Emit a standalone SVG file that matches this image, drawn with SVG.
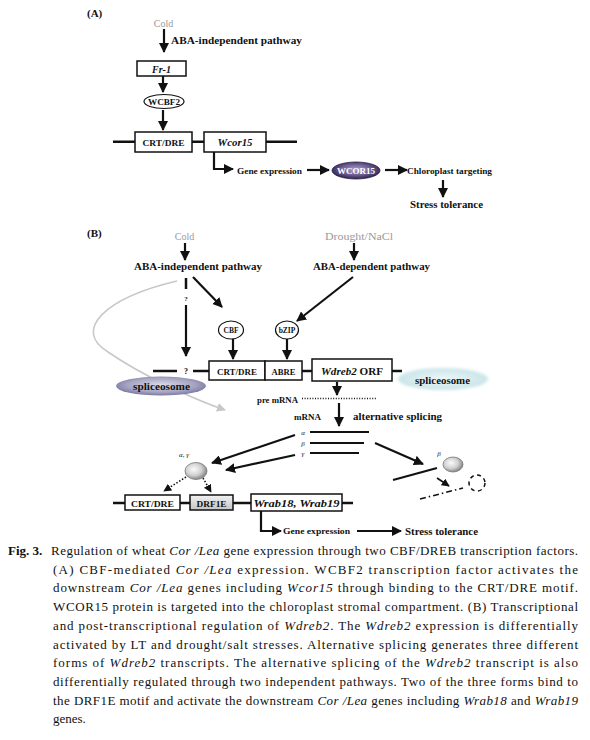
<svg xmlns="http://www.w3.org/2000/svg" width="590" height="740" viewBox="0 0 590 740">
<style>
text{font-family:"Liberation Serif","Times New Roman",serif;fill:#111}
.b{font-weight:bold}
.i{font-style:italic}
.gray{fill:#9a9a9a}
.box{fill:#fff;stroke:#111;stroke-width:1.5}
.ln{stroke:#111;stroke-width:2.5;fill:none}
.ar{stroke:#111;stroke-width:2.2;fill:none;marker-end:url(#ah)}
.ars{stroke:#111;stroke-width:1.6;fill:none;marker-end:url(#ahs)}
.dot{stroke:#111;stroke-width:1.6;fill:none;stroke-dasharray:1.5 1.8;marker-end:url(#ahs)}
.cap{font-size:13px}
.lbl{font-size:10px;font-weight:bold}
</style>
<defs>
<marker id="ah" viewBox="0 0 10 10" refX="9" refY="5" markerWidth="10" markerHeight="10" markerUnits="userSpaceOnUse" orient="auto"><path d="M0,0 L10,5 L0,10 z" fill="#111"/></marker>
<marker id="ahs" viewBox="0 0 10 10" refX="9" refY="5" markerWidth="8" markerHeight="8" markerUnits="userSpaceOnUse" orient="auto"><path d="M0,0 L10,5 L0,10 z" fill="#111"/></marker>
<marker id="ahg" viewBox="0 0 10 10" refX="9" refY="5" markerWidth="9" markerHeight="9" markerUnits="userSpaceOnUse" orient="auto"><path d="M0,0 L10,5 L0,10 z" fill="#c8c8c8"/></marker>
<radialGradient id="wcor" cx="50%" cy="45%" r="55%"><stop offset="0" stop-color="#b0a2cc"/><stop offset="0.6" stop-color="#6a5a90"/><stop offset="1" stop-color="#2e2250"/></radialGradient>
<radialGradient id="splL" cx="50%" cy="45%" r="55%"><stop offset="0" stop-color="#dcdce8"/><stop offset="0.7" stop-color="#a4a2c0"/><stop offset="1" stop-color="#7a78a0"/></radialGradient>
<radialGradient id="splR" cx="50%" cy="50%" r="55%"><stop offset="0" stop-color="#eef8fa"/><stop offset="1" stop-color="#c6e2e6"/></radialGradient>
<radialGradient id="ball" cx="40%" cy="40%" r="60%"><stop offset="0" stop-color="#fbfbfb"/><stop offset="0.6" stop-color="#d0d0d0"/><stop offset="1" stop-color="#8a8a8a"/></radialGradient>
<linearGradient id="drf" x1="0" y1="0" x2="0" y2="1"><stop offset="0" stop-color="#f2f2f2"/><stop offset="1" stop-color="#c4c4c4"/></linearGradient>
<filter id="blur" x="-20%" y="-40%" width="140%" height="180%"><feGaussianBlur stdDeviation="1.8"/></filter>
</defs>
<rect width="590" height="740" fill="#fff"/>

<!-- ============ PANEL A ============ -->
<g id="A-title"><text x="87" y="17" class="b" font-size="11">(A)</text></g>
<g id="A-cold"><text x="163.5" y="27" class="gray" font-size="10" text-anchor="middle">Cold</text></g>
<g id="A-pathway"><text x="171" y="44" class="b" font-size="11" textLength="131" lengthAdjust="spacingAndGlyphs">ABA-independent pathway</text></g>
<g id="A-fr1"><rect x="137" y="61" width="49" height="15" class="box"/><text x="161.5" y="72.5" class="b i" font-size="10" text-anchor="middle">Fr-1</text></g>
<g id="A-wcbf2"><ellipse cx="164" cy="101.5" rx="20" ry="7" fill="#fff" stroke="#111" stroke-width="1.2"/><text x="164" y="104.5" class="b" font-size="8" text-anchor="middle" textLength="32" lengthAdjust="spacingAndGlyphs">WCBF2</text></g>
<g id="A-gene">
<line x1="113" y1="141.7" x2="297" y2="141.7" class="ln"/>
<rect x="135" y="132" width="57" height="20" class="box"/>
<text x="163.5" y="145.5" class="b" font-size="9" text-anchor="middle" textLength="42" lengthAdjust="spacingAndGlyphs">CRT/DRE</text>
<rect x="204" y="132" width="62" height="20" class="box"/>
<text x="235" y="145.5" class="b i" font-size="10" text-anchor="middle" textLength="35" lengthAdjust="spacingAndGlyphs">Wcor15</text>
</g>
<g id="A-geneexp"><text x="237" y="173.5" class="b" font-size="8.5" textLength="65" lengthAdjust="spacingAndGlyphs">Gene expression</text></g>
<g id="A-wcor15"><ellipse cx="356" cy="170.5" rx="24" ry="8.5" fill="url(#wcor)" stroke="#2a1f45" stroke-width="0.8"/><text x="356" y="174" class="b" font-size="9" text-anchor="middle" fill="#fff" style="fill:#fff" textLength="38" lengthAdjust="spacingAndGlyphs">WCOR15</text></g>
<g id="A-chloro"><text x="407" y="173.5" class="b" font-size="8.5" textLength="85" lengthAdjust="spacingAndGlyphs">Chloroplast targeting</text></g>
<g id="A-stress"><text x="410" y="208" class="b" font-size="10" textLength="73" lengthAdjust="spacingAndGlyphs">Stress tolerance</text></g>

<g id="A-connectors">
<line x1="164" y1="29" x2="164" y2="52" class="ar"/>
<line x1="163" y1="76" x2="163" y2="92" class="ar"/>
<line x1="163" y1="110" x2="163" y2="130" class="ar"/>
<path d="M214 152 V169 H233" class="ar"/>
<line x1="307" y1="170" x2="329" y2="170" class="ar"/>
<line x1="385" y1="170" x2="407" y2="170" class="ar"/>
<line x1="443" y1="180" x2="443" y2="197" class="ar" stroke-width="3"/>
</g>

<!-- ============ PANEL B ============ -->
<g id="B-title"><text x="87" y="237" class="b" font-size="11">(B)</text></g>
<g id="B-cold"><text x="184.5" y="240" class="gray" font-size="10" text-anchor="middle">Cold</text></g>
<g id="B-drought"><text x="325" y="240" class="gray" font-size="10" textLength="68" lengthAdjust="spacingAndGlyphs">Drought/NaCl</text></g>
<g id="B-abaind"><text x="134" y="270" class="b" font-size="11" textLength="128" lengthAdjust="spacingAndGlyphs">ABA-independent pathway</text></g>
<g id="B-abadep"><text x="313" y="270" class="b" font-size="11" textLength="117" lengthAdjust="spacingAndGlyphs">ABA-dependent pathway</text></g>

<g id="B-splicing-curve">
<path d="M177 281 C105 298 72 330 108 352 C140 374 190 398 225 410" fill="none" stroke="#c8c8c8" stroke-width="1.6" marker-end="url(#ahg)"/>
</g>

<g id="B-cbf"><ellipse cx="231" cy="330" rx="12.5" ry="9" fill="#fff" stroke="#111" stroke-width="1.2"/><text x="231" y="333" class="b" font-size="7.5" text-anchor="middle">CBF</text></g>
<g id="B-bzip"><ellipse cx="287" cy="330" rx="11.5" ry="9" fill="#fff" stroke="#111" stroke-width="1.2"/><text x="287" y="333" class="b" font-size="7.5" text-anchor="middle">bZIP</text></g>

<g id="B-gene">
<line x1="153" y1="371" x2="177" y2="371" class="ln"/>
<text x="186" y="374" class="b" font-size="8" text-anchor="middle">?</text>
<line x1="193" y1="371" x2="209" y2="371" class="ln"/>
<rect x="209" y="361" width="56" height="19" class="box"/>
<text x="237" y="374.5" class="b" font-size="9" text-anchor="middle" textLength="40" lengthAdjust="spacingAndGlyphs">CRT/DRE</text>
<rect x="265" y="361" width="37" height="19" class="box"/>
<text x="283.5" y="374.5" class="b" font-size="9" text-anchor="middle" textLength="24" lengthAdjust="spacingAndGlyphs">ABRE</text>
<line x1="302" y1="371" x2="312" y2="371" class="ln"/>
<rect x="312" y="359" width="80" height="22" class="box"/>
<text x="352" y="374.5" font-size="10" text-anchor="middle" textLength="62" lengthAdjust="spacingAndGlyphs"><tspan class="b i">Wdreb2</tspan><tspan class="b"> ORF</tspan></text>
<line x1="392" y1="371" x2="402" y2="371" class="ln"/>
</g>

<g id="B-spliceosome-left"><ellipse cx="161" cy="386" rx="45" ry="9.5" fill="url(#splL)"/><text x="161.5" y="390" class="b" font-size="9.5" text-anchor="middle" textLength="57" lengthAdjust="spacingAndGlyphs">spliceosome</text></g>
<g id="B-spliceosome-right"><ellipse cx="443" cy="379" rx="45" ry="11" fill="url(#splR)" filter="url(#blur)"/><text x="442.5" y="384" class="b" font-size="9.5" text-anchor="middle" textLength="55" lengthAdjust="spacingAndGlyphs">spliceosome</text></g>

<g id="B-premrna"><text x="257" y="403" class="b" font-size="7.5" textLength="41" lengthAdjust="spacingAndGlyphs">pre mRNA</text>
<line x1="302" y1="398.5" x2="377" y2="398.5" stroke="#111" stroke-width="1.4" stroke-dasharray="1 1.6"/></g>
<g id="B-mrna"><text x="294" y="420" class="b" font-size="7.5" textLength="27" lengthAdjust="spacingAndGlyphs">mRNA</text></g>
<g id="B-altsplice"><text x="353" y="420" class="b" font-size="10" textLength="89" lengthAdjust="spacingAndGlyphs">alternative splicing</text></g>

<g id="B-transcripts">
<text x="303" y="434.5" class="i" font-size="7" text-anchor="middle">α</text>
<line x1="310" y1="432" x2="369" y2="432" stroke="#111" stroke-width="2"/>
<text x="303" y="445.5" class="i" font-size="7" text-anchor="middle">β</text>
<line x1="310" y1="443" x2="364" y2="443" stroke="#111" stroke-width="2"/>
<text x="303" y="456" class="i" font-size="7" text-anchor="middle">γ</text>
<line x1="310" y1="453" x2="359" y2="453" stroke="#111" stroke-width="2"/>
</g>

<g id="B-ag-protein"><text x="184" y="457" class="i" font-size="7" text-anchor="middle">α, γ</text><ellipse cx="196" cy="471" rx="11" ry="8.5" fill="url(#ball)" stroke="#777" stroke-width="0.8"/></g>
<g id="B-b-protein"><text x="439" y="456" class="i" font-size="7" text-anchor="middle">β</text><ellipse cx="453" cy="464.5" rx="10" ry="7.5" fill="url(#ball)" stroke="#777" stroke-width="0.8"/></g>

<g id="B-target">
<line x1="113" y1="503" x2="353" y2="503" class="ln"/>
<rect x="125" y="495" width="55" height="15" class="box"/>
<text x="152.5" y="506.5" class="b" font-size="9" text-anchor="middle" textLength="43" lengthAdjust="spacingAndGlyphs">CRT/DRE</text>
<rect x="190" y="495" width="43" height="15" fill="url(#drf)" stroke="#111" stroke-width="1.5"/>
<text x="211.5" y="506.5" class="b" font-size="9" text-anchor="middle" textLength="30" lengthAdjust="spacingAndGlyphs">DRF1E</text>
<rect x="251" y="494" width="91" height="17" class="box"/>
<text x="296.5" y="506.5" class="b i" font-size="9.5" text-anchor="middle" textLength="86" lengthAdjust="spacingAndGlyphs">Wrab18, Wrab19</text>
</g>
<g id="B-geneexp"><text x="283" y="534" class="b" font-size="8.5" textLength="67" lengthAdjust="spacingAndGlyphs">Gene expression</text></g>
<g id="B-stress"><text x="405" y="534.5" class="b" font-size="10" textLength="73" lengthAdjust="spacingAndGlyphs">Stress tolerance</text></g>
<g id="B-unbound"><circle cx="477" cy="483" r="8" fill="none" stroke="#111" stroke-width="1.5" stroke-dasharray="4 3.5"/></g>

<g id="B-connectors">
<line x1="185" y1="243" x2="185" y2="260" class="ar"/>
<line x1="354" y1="243" x2="354" y2="260" class="ar"/>
<line x1="186" y1="278" x2="186" y2="289" class="ln" stroke-width="2.2"/>
<text x="186" y="301" class="b" font-size="7" text-anchor="middle">?</text>
<line x1="186" y1="305" x2="186" y2="356" class="ar"/>
<line x1="193" y1="277" x2="222" y2="307" class="ar"/>
<line x1="353" y1="277" x2="297" y2="321" class="ar"/>
<line x1="233" y1="339" x2="233" y2="359" class="ar"/>
<line x1="287" y1="339" x2="287" y2="359" class="ar"/>
<line x1="337" y1="382" x2="337" y2="395" class="ar"/>
<line x1="339" y1="403" x2="339" y2="426" class="ar"/>
<line x1="295" y1="435" x2="212" y2="463" class="ar" stroke-width="2"/>
<line x1="295" y1="455" x2="226" y2="470" class="ar" stroke-width="2"/>
<line x1="375" y1="443" x2="423" y2="464" class="ar" stroke-width="2"/>
<line x1="186" y1="477" x2="164" y2="491" class="dot"/>
<line x1="203" y1="478" x2="211" y2="492" class="dot"/>
<line x1="393" y1="480" x2="437" y2="468" stroke="#111" stroke-width="2"/>
<line x1="437" y1="478" x2="449" y2="486" class="ars"/>
<line x1="420" y1="499" x2="463" y2="488" stroke="#111" stroke-width="1.6" stroke-dasharray="6 3 1.5 3"/>
<path d="M261 511 V531 H281" class="ar"/>
<line x1="357" y1="531" x2="401" y2="531" class="ar" stroke-width="3"/>
</g>

<!-- ============ CAPTION ============ -->
<g id="caption" class="cap">
<text x="8" y="555" class="cap b">Fig. 3.</text>
<text x="51" y="555" class="cap" textLength="527" lengthAdjust="spacing">Regulation of wheat <tspan class="i">Cor /Lea</tspan> gene expression through two CBF/DREB transcription factors.</text>
<text x="53" y="573.7" class="cap" textLength="525" lengthAdjust="spacing">(A) CBF-mediated <tspan class="i">Cor /Lea</tspan> expression.  WCBF2 transcription factor activates the</text>
<text x="53" y="592.4" class="cap" textLength="525" lengthAdjust="spacing">downstream <tspan class="i">Cor /Lea</tspan> genes including <tspan class="i">Wcor15</tspan> through binding to the CRT/DRE motif.</text>
<text x="53" y="611.1" class="cap" textLength="525" lengthAdjust="spacing">WCOR15 protein is targeted into the chloroplast stromal compartment.  (B) Transcriptional</text>
<text x="53" y="629.8" class="cap" textLength="525" lengthAdjust="spacing">and post-transcriptional regulation of <tspan class="i">Wdreb2</tspan>.  The <tspan class="i">Wdreb2</tspan> expression is differentially</text>
<text x="53" y="648.5" class="cap" textLength="525" lengthAdjust="spacing">activated by LT and drought/salt stresses.  Alternative splicing generates three different</text>
<text x="53" y="667.2" class="cap" textLength="525" lengthAdjust="spacing">forms of <tspan class="i">Wdreb2</tspan> transcripts.  The alternative splicing of the <tspan class="i">Wdreb2</tspan> transcript is also</text>
<text x="53" y="685.9" class="cap" textLength="525" lengthAdjust="spacing">differentially regulated through two independent pathways.  Two of the three forms bind to</text>
<text x="53" y="704.6" class="cap" textLength="525" lengthAdjust="spacing">the DRF1E motif and activate the downstream <tspan class="i">Cor /Lea</tspan> genes including <tspan class="i">Wrab18</tspan> and <tspan class="i">Wrab19</tspan></text>
<text x="53" y="723.3" class="cap">genes.</text>
</g>
</svg>
